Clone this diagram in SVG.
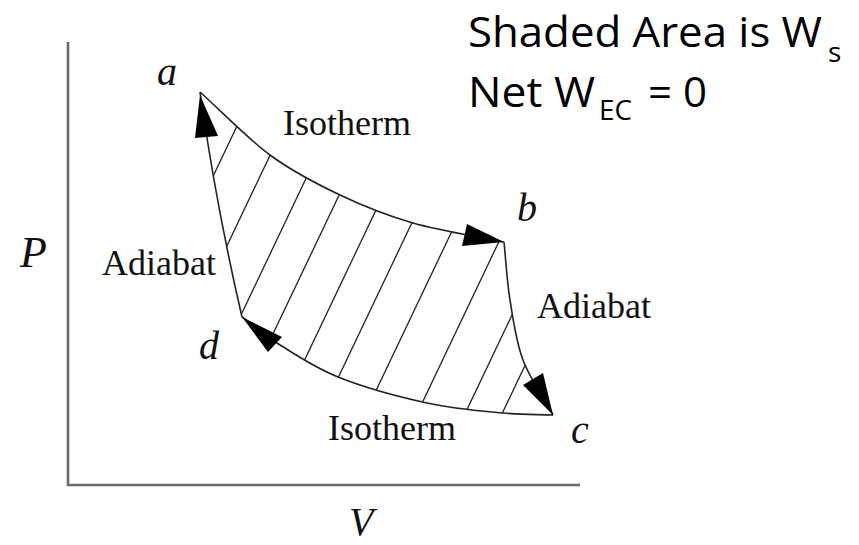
<svg xmlns="http://www.w3.org/2000/svg" width="859" height="545" viewBox="0 0 859 545">
  <style>
    .axis { stroke: #6a6a6a; stroke-width: 2.6; fill: none; }
    .curve { stroke: #222; stroke-width: 1.6; fill: none; }
    .hatch { stroke: #222; stroke-width: 1.3; }
    .arrow { fill: #000; stroke: none; }
    .lbl { font-family: "Liberation Serif", "Times New Roman", serif; fill: #111; }
    .it { font-style: italic; }
    .note { font-family: "Open Sans", "Noto Sans", "Liberation Sans", sans-serif; fill: #000; }
  </style>
  <defs>
    <clipPath id="region">
      <path d="M200,92 C223.3,113 246.7,137.8 270,155 C293.3,172.2 316.2,183.7 340,195 C363.8,206.3 385.8,215.2 413,223 C440.2,230.8 473,235.7 504,242 C506,261.3 506.8,280.3 510,300 C513.2,319.7 515.8,340.8 523,360 C530.2,379.2 543,396.7 553,415 C536.3,414.3 524,415 503,413 C482,411 454.5,409 427,403 C399.5,397 363,387 338,377 C313,367 293,353 277,343 C261,333 253.7,325.7 242,317 Q216,205 200,92 Z"/>
    </clipPath>
  </defs>
  <rect width="859" height="545" fill="#fff"/>

  <g id="axes">
    <path class="axis" d="M68,42 V485 H580"/>
    <text class="lbl it" x="20" y="267" font-size="44">P</text>
    <text class="lbl it" x="349" y="535" font-size="40">V</text>
  </g>

  <g id="hatching" clip-path="url(#region)">
    <line class="hatch" x1="87.5" y1="440" x2="258.9" y2="80"/>
    <line class="hatch" x1="134.5" y1="440" x2="305.9" y2="80"/>
    <line class="hatch" x1="181.5" y1="440" x2="352.9" y2="80"/>
    <line class="hatch" x1="222.5" y1="440" x2="393.9" y2="80"/>
    <line class="hatch" x1="266.5" y1="440" x2="437.9" y2="80"/>
    <line class="hatch" x1="308.5" y1="440" x2="479.9" y2="80"/>
    <line class="hatch" x1="352.5" y1="440" x2="523.9" y2="80"/>
    <line class="hatch" x1="404.5" y1="440" x2="575.9" y2="80"/>
    <line class="hatch" x1="452.5" y1="440" x2="623.9" y2="80"/>
    <line class="hatch" x1="489.5" y1="440" x2="660.9" y2="80"/>
  </g>

  <g id="connectors">
    <path id="isotherm-ab" class="curve" d="M200,92 C223.3,113 246.7,137.8 270,155 C293.3,172.2 316.2,183.7 340,195 C363.8,206.3 385.8,215.2 413,223 C440.2,230.8 473,235.7 504,242"/>
    <path id="adiabat-bc" class="curve" d="M504,242 C506,261.3 506.8,280.3 510,300 C513.2,319.7 515.8,340.8 523,360 C530.2,379.2 543,396.7 553,415"/>
    <path id="isotherm-cd" class="curve" d="M553,415 C536.3,414.3 524,415 503,413 C482,411 454.5,409 427,403 C399.5,397 363,387 338,377 C313,367 293,353 277,343 C261,333 253.7,325.7 242,317"/>
    <path id="adiabat-da" class="curve" d="M242,317 Q216,205 200,92"/>
    <polygon class="arrow" points="200,95 218,136 195,138"/>
    <polygon class="arrow" points="504,242 462,246 467,224"/>
    <polygon class="arrow" points="553,415 523,385 543,373"/>
    <polygon class="arrow" points="242,317 282,337 268,352"/>
  </g>

  <g id="node-a"><text class="lbl it" x="157" y="85" font-size="40">a</text></g>
  <g id="node-b"><text class="lbl it" x="517" y="221" font-size="40">b</text></g>
  <g id="node-c"><text class="lbl it" x="571" y="443" font-size="40">c</text></g>
  <g id="node-d"><text class="lbl it" x="199" y="359" font-size="40">d</text></g>

  <g id="label-isotherm-top"><text class="lbl" x="283" y="135" font-size="36">Isotherm</text></g>
  <g id="label-isotherm-bottom"><text class="lbl" x="328" y="440" font-size="36">Isotherm</text></g>
  <g id="label-adiabat-left"><text class="lbl" x="102" y="275" font-size="36">Adiabat</text></g>
  <g id="label-adiabat-right"><text class="lbl" x="537" y="318" font-size="36">Adiabat</text></g>

  <g id="note">
    <text class="note" x="468" y="47" font-size="42" textLength="354" lengthAdjust="spacingAndGlyphs">Shaded Area is W</text>
    <text class="note" x="828" y="62" font-size="28">s</text>
    <text class="note" x="468" y="107" font-size="42" textLength="127" lengthAdjust="spacingAndGlyphs">Net W</text>
    <text class="note" x="599" y="120" font-size="28" textLength="33" lengthAdjust="spacingAndGlyphs">EC</text>
    <text class="note" x="648" y="107" font-size="42" textLength="59" lengthAdjust="spacingAndGlyphs">= 0</text>
  </g>
</svg>
